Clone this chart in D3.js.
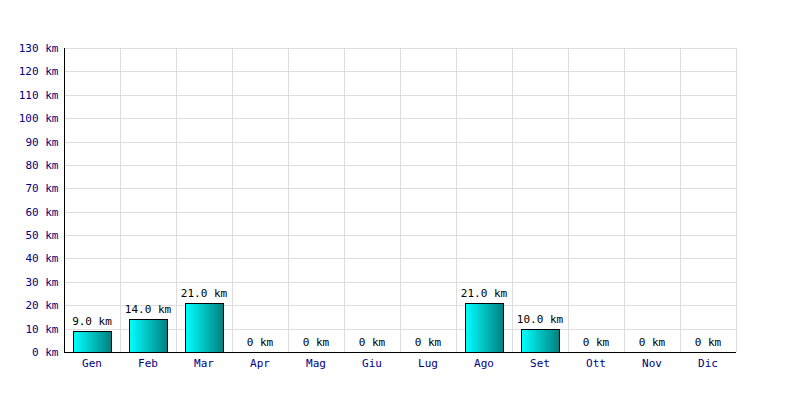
<!DOCTYPE html>
<html><head><meta charset="utf-8">
<script src="https://cdn.jsdelivr.net/npm/d3@7"></script>
<style>body{margin:0;background:#fff}svg{display:block}</style>
</head><body>
<script>
const months = ["Gen","Feb","Mar","Apr","Mag","Giu","Lug","Ago","Set","Ott","Nov","Dic"];
const km = [9,14,21,0,0,0,0,21,10,0,0,0];
const yTicks = [0,10,20,30,40,50,60,70,80,90,100,110,120,130];

const W=800,H=400, L=65, R=737, T=48, B=352;
const svg = d3.select("body").append("svg").attr("width",W).attr("height",H);
const defs = svg.append("defs");
const g = defs.append("linearGradient").attr("id","grad").attr("x1","0").attr("x2","1").attr("y1","0").attr("y2","0");
g.append("stop").attr("offset","0").attr("stop-color","#00ffff");
g.append("stop").attr("offset","1").attr("stop-color","#008080");

const x = d3.scaleBand().domain(months).range([L,R]);
const y = d3.scaleLinear().domain([0,130]).range([B,T]);
const font = "'DejaVu Sans Mono', monospace";

// grid
svg.append("g").selectAll("line").data(yTicks.slice(1)).join("line")
  .attr("x1",L-1).attr("x2",R).attr("y1",d=>Math.round(y(d))+0.5).attr("y2",d=>Math.round(y(d))+0.5)
  .attr("stroke","#dddddd");
svg.append("g").selectAll("line").data(months.slice(1).concat(["__end"])).join("line")
  .attr("x1",(d,i)=>Math.round(L+(i+1)*x.step())-0.5).attr("x2",(d,i)=>Math.round(L+(i+1)*x.step())-0.5)
  .attr("y1",T).attr("y2",B).attr("stroke","#dddddd");

// bars
const bw = 38;
svg.append("g").selectAll("rect").data(km.map((v,i)=>({m:months[i],v})).filter(d=>d.v>0)).join("rect")
  .attr("x",d=>Math.round(x(d.m)+x.bandwidth()/2-bw/2)-0.5)
  .attr("y",d=>Math.round(y(d.v))+0.5)
  .attr("width",bw).attr("height",d=>Math.round(y(0))-Math.round(y(d.v)))
  .attr("fill","url(#grad)").attr("stroke","#000").attr("stroke-width",1);

// value labels
svg.append("g").selectAll("text").data(km.map((v,i)=>({m:months[i],v}))).join("text")
  .attr("x",d=>x(d.m)+x.bandwidth()/2-1).attr("y",d=>y(d.v)-6)
  .attr("text-anchor","middle").attr("font-family",font).attr("font-size",11).attr("fill","#000")
  .text(d=>d.v>0? d.v.toFixed(1)+" km" : "0 km");

// axes
const yAxis = d3.axisLeft(y).tickValues(yTicks).tickSize(0).tickPadding(6).tickFormat(d=>d+" km");
const ya = svg.append("g").attr("transform",`translate(${L-0.5},0)`).call(yAxis);
ya.select(".domain").attr("stroke","#000").attr("d",`M0,${T}V${B}`);
ya.selectAll("text").attr("font-family",font).attr("font-size",11).attr("fill","#000080");

const xAxis = d3.axisBottom(x).tickSize(0).tickPadding(7);
const xa = svg.append("g").attr("transform",`translate(-1,${B+0.5})`).call(xAxis);
xa.select(".domain").attr("stroke","#000").attr("d",`M${L},0H${R}`);
xa.selectAll("text").attr("font-family",font).attr("font-size",11).attr("fill","#000080");
</script>
</body></html>
